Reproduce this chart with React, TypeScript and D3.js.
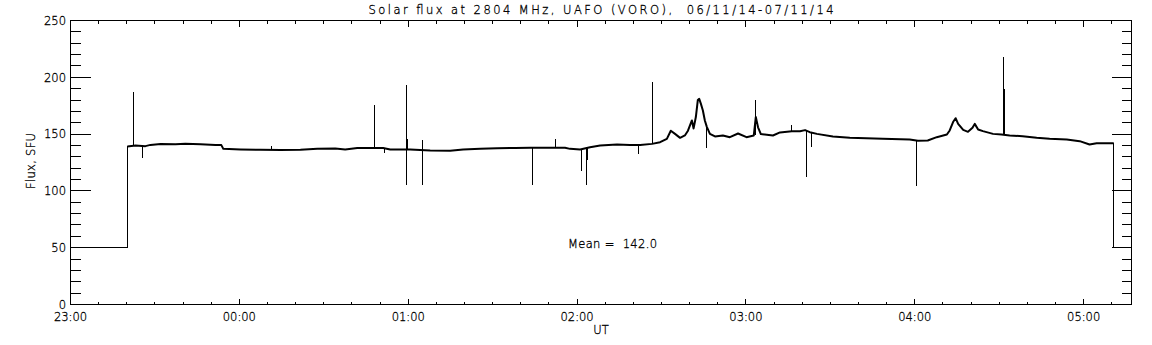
import React from "react";
import * as d3 from "d3";

// Time in minutes after 23:00 UT (06/11/14), flux in SFU
const offLevelStart: [number, number][] = [
  [0, 50], [20.2, 50], [20.2, 139.1],
];
const offLevelEnd: [number, number][] = [
  [370.7, 142], [370.7, 50], [377, 50],
];
const fluxTrace: [number, number][] = [
  [20.2, 139.1], [23.1, 140], [26.6, 139.4], [28.4, 140.5], [32, 141.2], [37.3, 141],
  [40.8, 141.5], [46.2, 141], [51.5, 140.5], [53.6, 140.3], [54.3, 137], [60.4, 136.5],
  [67.5, 136.2], [74.6, 136], [81.7, 136.3], [87.7, 137], [94.1, 137.3], [97.6, 136.5],
  [101.9, 137.8], [111.1, 137.8], [113.6, 136.5], [120.7, 136.5], [127.8, 135.5],
  [134.9, 135.3], [139.5, 136.4], [145.6, 137], [151.6, 137.6], [158, 137.8], [163.3, 137.9],
  [170.4, 138], [175.7, 137.9], [177.5, 137], [181.1, 136.4], [184.6, 138.5], [188.2, 140],
  [194.2, 140.8], [198.8, 140.5], [202.4, 140.3], [206.6, 141.4], [209.5, 142.9],
  [211.9, 145.8], [213.3, 153], [214.8, 150.2], [216.6, 146.7], [218.3, 148.8], [219.4, 153],
  [220.8, 162], [221.4, 155], [222.2, 165], [222.9, 180], [223.4, 181], [224, 176.6],
  [224.7, 170.8], [225.4, 162], [226.1, 156.4], [227.2, 150.2], [229, 147.9], [231.8, 148.8],
  [234.3, 147.3], [237.2, 150.5], [240.2, 147.3], [242.8, 148.8], [243.5, 165], [244.3, 156],
  [245.3, 150], [246.7, 149.6], [249.6, 148.8], [252.1, 151.5], [256.3, 152.5], [259.2, 152.6],
  [261, 153.5], [262.7, 151.7], [265.2, 150.2], [270.9, 147.9], [276.9, 146.7], [288.6, 145.8],
  [298.2, 145.2], [301.1, 144.2], [304.6, 144.4], [307.8, 147.3], [311.4, 149.6], [312.4, 153.2],
  [313.6, 160.6], [314.5, 164], [315.4, 159], [317.2, 153.7], [318.9, 152], [320.5, 155.5],
  [321.3, 159], [322.5, 154], [324.2, 152.6], [327.8, 150.2], [330.8, 149.6], [333.7, 148.8],
  [338.3, 148.2], [343.3, 146.7], [347.9, 145.8], [354, 145.2], [358.6, 143.8], [362.1, 140.8],
  [364.6, 142], [369.2, 142], [370.7, 142],
];
// Short spikes: [minute, low, high]
const spikes: [number, number, number][] = [
  [22.5, 139.5, 187.5], [25.7, 128.8, 140], [71.3, 136, 139.7], [107.9, 137.8, 175.5],
  [111.5, 133.5, 137.8], [119.3, 104.8, 192.8], [119.7, 136, 146], [125, 105, 144.4],
  [164, 104.8, 138], [172.3, 138, 145.8], [181.5, 117.4, 137], [183.4, 104.8, 138],
  [183.6, 127.3, 138], [202, 132.6, 140.3], [206.7, 141.4, 196.3], [226.1, 137.9, 156.4],
  [243.3, 148.8, 180.2], [256.3, 152.5, 158.4], [261.5, 112, 153.5], [263.2, 139, 151.7],
  [300.5, 104.2, 145], [331.4, 149.6, 218.3], [331.7, 149.6, 190],
];
const xMajorTicks = [0, 60, 120, 180, 240, 300, 360];
const xTickLabels = ["23:00", "00:00", "01:00", "02:00", "03:00", "04:00", "05:00"];
const yMajorTicks = [0, 50, 100, 150, 200, 250];
const titleText = "Solar flux at 2804 MHz, UAFO (VORO),  06/11/14-07/11/14";
const meanText = "Mean =  142.0";

const W = 1152, H = 345;
const FONT = "'DejaVu Sans', sans-serif";

export default function App() {
  const x = d3.scaleLinear().domain([0, 377]).range([70.5, 1131.5]);
  const y = d3.scaleLinear().domain([0, 250]).range([304.5, 20.5]);
  const line = d3.line<[number, number]>().x((d) => x(d[0])).y((d) => y(d[1]));
  const xMinor = d3.range(0, 377, 10).filter((m) => m % 60 !== 0);
  const yMinor = d3.range(0, 251, 10).filter((v) => v % 50 !== 0);
  const [x0, x1] = x.range();
  const [y0, y1] = y.range();
  const txt = {
    fontFamily: FONT, fontSize: 11.5, fontWeight: 200, fill: "#000",
    stroke: "#000", strokeWidth: 0.3,
  } as const;

  return (
    <svg width={W} height={H} style={{ position: "absolute", left: 0, top: 0, background: "#fff" }}>
      <rect x={0} y={0} width={W} height={H} fill="#fff" />
      <g stroke="#000" strokeWidth={1} shapeRendering="crispEdges" fill="none">
        <rect x={x0} y={y1} width={x1 - x0} height={y0 - y1} />
        {xMajorTicks.map((m) => (
          <g key={"xm" + m}>
            <line x1={x(m)} x2={x(m)} y1={y0} y2={y0 - 6} />
            <line x1={x(m)} x2={x(m)} y1={y1} y2={y1 + 6} />
          </g>
        ))}
        {xMinor.map((m) => (
          <g key={"xn" + m}>
            <line x1={x(m)} x2={x(m)} y1={y0} y2={y0 - 3} />
            <line x1={x(m)} x2={x(m)} y1={y1} y2={y1 + 3} />
          </g>
        ))}
        {yMajorTicks.map((v) => (
          <g key={"ym" + v}>
            <line x1={x0} x2={x0 + 20} y1={y(v)} y2={y(v)} />
            <line x1={x1} x2={x1 - 20} y1={y(v)} y2={y(v)} />
          </g>
        ))}
        {yMinor.map((v) => (
          <g key={"yn" + v}>
            <line x1={x0} x2={x0 + 10} y1={y(v)} y2={y(v)} />
            <line x1={x1} x2={x1 - 10} y1={y(v)} y2={y(v)} />
          </g>
        ))}
      </g>
      <g fill="none" stroke="#000">
        <path d={line(offLevelStart) || ""} strokeWidth={1} shapeRendering="crispEdges" />
        <path d={line(offLevelEnd) || ""} strokeWidth={1} shapeRendering="crispEdges" />
        <path d={line(fluxTrace) || ""} strokeWidth={2} strokeLinejoin="round" />
        {spikes.map((s, i) => (
          <line key={"sp" + i} x1={x(s[0])} x2={x(s[0])} y1={y(s[1])} y2={y(s[2])}
            strokeWidth={1} shapeRendering="crispEdges" />
        ))}
      </g>
      {xMajorTicks.map((m, i) => (
        <text key={"xl" + m} x={x(m)} y={320.5} textAnchor="middle" {...txt}>{xTickLabels[i]}</text>
      ))}
      {yMajorTicks.map((v) => (
        <text key={"yl" + v} x={66} y={y(v) + 4.2} textAnchor="end" {...txt}>{String(v)}</text>
      ))}
      <text x={601} y={333.5} textAnchor="middle" {...txt}>UT</text>
      <text transform="translate(34.5,161) rotate(-90)" textAnchor="middle" {...txt}
        textLength={56} lengthAdjust="spacing">Flux, SFU</text>
      <text x={601} y={14} textAnchor="middle" {...txt} textLength={465} lengthAdjust="spacing"
        style={{ whiteSpace: "pre" }}>{titleText}</text>
      <text x={568} y={247.5} {...txt} textLength={89} lengthAdjust="spacing"
        style={{ whiteSpace: "pre" }}>{meanText}</text>
    </svg>
  );
}
